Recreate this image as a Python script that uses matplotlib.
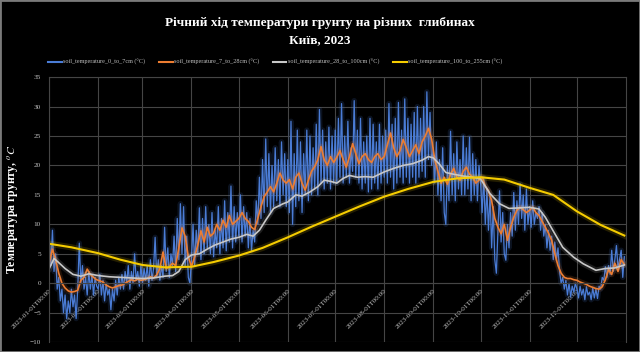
import matplotlib
matplotlib.use("Agg")
import matplotlib.pyplot as plt
import matplotlib.dates as mdates
import matplotlib.patheffects as pe
from matplotlib.lines import Line2D
import numpy as np

plt.rcParams['font.family'] = ['Liberation Serif', 'DejaVu Serif']
plt.rcParams['mathtext.fontset'] = 'stix'

# --- data (day of year 0 = 2023-01-01) ---
t_0_7 = [
    8, 3, 9, 2, 5, -1, 1, -3, -1, -5, -2, -6, -3, -5, -1, -4, -2, -6, -1, 6.8, 0, 3, -1, 1, -2, 2, -1, 1.5, -2, 1, -0.5,
    -1, 1.5, -2, 0.5, -3, 0, -2, -1, -4.5, -1, -3, 0.5, -2, 1, -1, 1.5, -1, 2, 0, 3, -1, 2, 0, 5, 0.5, 2, -0.5, 3,
    0, 2.5, 0.5, 3, -0.5, 4, 0.5, 2.5, 7.8, 1, 4, 0.5, 3, 1, 9.5, 2, 6, 1, 5, 3, 8, 2, 11, 4, 13.5, 5, 13, 3, 8, 1, 0,
    4, 10, 3, 9, 5, 12.8, 4, 11, 5, 13, 6, 10, 5, 12, 4.5, 9, 6, 13, 5, 11, 6, 14, 5.5, 12, 7, 16.5, 6, 13, 7, 12,
    8, 15, 7, 13, 8, 12, 6, 11, 5.5, 9, 7, 14, 10, 18, 11, 21, 12, 24.5, 13, 22, 12, 20, 13, 23, 14, 21, 13, 24, 15, 22, 13,
    21, 12, 27.5, 10, 22, 13, 26, 14, 24, 12, 22, 15, 26, 14, 25, 15, 23, 16, 27, 15, 29.5, 17, 26, 16, 24, 17, 26.5, 16, 25, 17,
    26, 17, 28, 18, 30.5, 17, 25, 18, 27.5, 17, 23, 19, 31, 18, 26, 17, 28, 16, 24, 17, 25, 15.5, 28, 16, 27, 17, 24, 16, 27, 17, 25,
    18, 26, 17, 30.5, 18, 27, 16, 28, 17, 30.7, 18, 26, 17, 31.3, 18, 28, 17, 27, 18, 29, 17, 30, 18, 28, 19, 30, 18, 32.5, 21, 29, 20,
    23, 17, 24, 15, 21, 14, 23, 12, 10, 20, 14, 25.8, 15, 22, 14, 24, 16, 21, 15, 25, 15, 23, 16, 24.8, 14, 22, 15, 21, 14, 20,
    17, 12, 18, 10, 16, 9, 15, 6, 13, 4, 1.7, 9, 15.7, 7, 12, 5, 3.9, 10, 6, 12, 8, 15.4, 9, 14, 10, 16.9, 11, 15, 9, 16, 10,
    13, 9.5, 14, 10, 12, 11, 13, 9, 12, 8, 10, 6, 9, 5.6, 8, 4, 7, 3.9, 6, 2, 0, 1, -1, 0.5, -2, 0, -2.3, -0.5, -1.5, 0,
    -1, -2.5, -0.5, -2, -1, -2.8, -0.6, -2, -1.5, -2.8, -0.8, -2.5, -1, -2.6, -0.5, -1, 1, 0.5, 2.8, 1, 3, 1.5, 5.6, 2, 4, 6.4, 2.5, 4, 5.6, 1, 4.5,
]

# every second day
t_7_28 = [
    3.5, 5.8, 4, 1.7, 0, -0.8, -1.3, -1.5, -1.4, -1.2, 0.5, 1.0, 2.4, 1.5, 1.0, 0.6,
    0.4, 0.2, -0.3, -0.6, -0.8, -0.6, -0.4, -0.3, 0, 0.3, 0.6, 0.4, 0.7, 0.5,
    0.6, 0.8, 1.1, 0.9, 1.4, 2.5, 5.3, 2.5, 2.8, 3.4, 3.0, 6.0, 9.4, 8.0, 4.5,
    2.8, 4.5, 6.5, 8.9, 7.0, 9.5, 8.0, 8.5, 10.0, 9.0, 10.7, 9.5, 11.5, 10.0, 10.5,
    11.0, 12.0, 11.0, 10.5, 9.5, 9.1, 11, 13, 14.7, 15.5, 16.4, 15.5, 17.0, 18.7, 17.5, 17.0,
    17.6, 16.0, 18.0, 18.7, 17.0, 15.8, 17.5, 19.0, 19.8, 21.0, 23.2, 21.0, 20.0, 21.5, 20.5,
    21.4, 22.5, 21.0, 19.7, 21.5, 23.7, 22.0, 20.3, 21.5, 22.0, 21.0, 20.5, 21.5, 22.0, 21.0,
    21.5, 23.5, 25.5, 23.0, 21.5, 22.5, 24.4, 23.0, 21.5, 22.5, 23.5, 22.0, 24.0, 25.0, 26.3, 24.5,
    21.0, 19.0, 17.0, 18.0, 16.8, 18.5, 19.5, 18.0, 17.5, 19.0, 19.7, 18.5, 18.0, 17.0, 17.5,
    18.0, 16.5, 15.7, 14.0, 11.0, 9.5, 8.4, 10.0, 7.3, 9.5, 11.2, 12.4, 12.9, 12.5, 12.0,
    12.4, 12.9, 12.0, 11.5, 10.5, 9.5, 8.5, 7.3, 5.0, 3.0, 1.7, 1.0, 0.8, 0.8, 0.6,
    0.5, 0.2, 0.0, -0.2, -0.5, -0.7, -0.9, -1.0, -0.6, 0.6, 2.3, 1.5, 3.4, 2.0, 4.0, 3.2,
]

gray_days = [0, 3, 6, 10, 15, 20, 25, 31, 38, 45, 52, 59, 66, 73, 78, 82, 86, 90, 95, 100,
             105, 110, 115, 120, 125, 129, 133, 137, 142, 148, 151, 156, 160, 165, 170, 174,
             178, 182, 186, 190, 195, 200, 205, 212, 218, 224, 230, 236, 240, 243, 247, 251,
             256, 262, 268, 273, 279, 285, 291, 298, 304, 310, 314, 320, 325, 332, 338, 346,
             352, 358, 364]
t_28_100 = [2.5, 4.2, 3.5, 2.5, 1.5, 1.2, 1.6, 1.3, 1.1, 1.0, 0.9, 0.8, 0.9, 1.2, 1.3, 2.0,
            4.0, 4.8, 5.0, 5.8, 6.5, 7.0, 7.5, 7.8, 8.3, 8.0, 9.0, 10.7, 12.7, 13.5, 13.8,
            15.0, 14.8, 15.5, 16.4, 17.5, 17.3, 17.0, 17.8, 18.3, 18.0, 18.1, 18.0, 18.9,
            19.5, 20.0, 20.3, 20.9, 21.5, 21.3, 20.2, 18.8, 18.5, 18.2, 18.0, 17.7, 15.2,
            13.5, 12.7, 12.8, 12.9, 12.6, 11.2, 8.4, 6.1, 4.4, 3.3, 2.2, 2.5, 2.6, 3.1]

yellow_days = [0, 14, 31, 45, 59, 73, 90, 104, 120, 135, 151, 166, 181, 196, 212, 227, 243,
               258, 273, 288, 304, 319, 334, 349, 364]
t_100_255 = [6.7, 6.1, 5.1, 4.0, 3.1, 2.7, 2.8, 3.6, 4.7, 6.0, 7.8, 9.6, 11.3, 13.0, 14.7,
             16.0, 17.2, 17.8, 18.0, 17.6, 16.2, 15.0, 12.2, 9.9, 8.1]

labels = ["soil_temperature_0_to_7cm (°C)", "soil_temperature_7_to_28cm (°C)",
          "soil_temperature_28_to_100cm (°C)", "soil_temperature_100_to_255cm (°C)"]
colors = ["#4a7cd6", "#ed7d31", "#c8c8c8", "#f5cc00"]

base = np.datetime64('2023-01-01')
d_blue = base + np.arange(len(t_0_7)).astype('timedelta64[D]')
d_orange = base + (np.arange(len(t_7_28)) * 2).astype('timedelta64[D]')
d_gray = base + np.array(gray_days).astype('timedelta64[D]')
d_yellow = base + np.array(yellow_days).astype('timedelta64[D]')

fig = plt.figure(figsize=(6.4, 3.52), dpi=100, facecolor='black')
ax = fig.add_axes([0.077, 0.028, 0.901, 0.753])
ax.set_facecolor('black')

series = [(d_blue, t_0_7, 0.9), (d_orange, t_7_28, 1.2), (d_gray, t_28_100, 1.2), (d_yellow, t_100_255, 1.5)]
for (dx, vy, lw), c in zip(series, colors):
    ax.plot(dx, vy, color=c, lw=lw,
            path_effects=[pe.Stroke(linewidth=lw + 3, foreground=c, alpha=0.15), pe.Normal()])

ax.set_ylim(-10, 35)
ax.set_yticks(np.arange(-10, 36, 5))
ax.set_xlim(base, np.datetime64('2024-01-01'))
ax.set_xticks([np.datetime64('2023-%02d-01' % m) for m in range(1, 13)])
ax.xaxis.set_major_formatter(mdates.DateFormatter('%Y-%m-%dT%H:%M'))
ax.grid(True, color='#454545', lw=0.8)
for s in ['top', 'left', 'right']:
    ax.spines[s].set_color('#454545')
ax.spines['bottom'].set_position(('data', 0))
ax.spines['bottom'].set_color('#454545')
ax.tick_params(length=0, colors='#c0c0c0', labelsize=5.2)
ax.tick_params(axis='y', pad=6)
for lbl in ax.get_xticklabels():
    lbl.set_rotation(45)
    lbl.set_ha('right')
    lbl.set_va('top')
    lbl.set_rotation_mode('anchor')

ax.set_ylabel("Температура грунту, $^{o}\\mathit{C}$", color='white', fontsize=8.5,
              fontweight='bold', labelpad=7)

fig.text(0.5, 0.935, "Річний хід температури грунту на різних  глибинах", ha='center',
         va='center', color='white', fontsize=9.5, fontweight='bold')
fig.text(0.5, 0.887, "Київ, 2023", ha='center', va='center', color='white',
         fontsize=9.5, fontweight='bold')

handles = [Line2D([], [], color=c, lw=1.5) for c in colors]
leg = fig.legend(handles, labels, loc='center', bbox_to_anchor=(0.43, 0.823), ncol=4,
                 frameon=False, fontsize=4.4, handlelength=2.2, columnspacing=2.3,
                 handletextpad=0.2)
for txt in leg.get_texts():
    txt.set_color('#c0c0c0')

fig.patches.append(plt.Rectangle((0, 0), 1, 1, transform=fig.transFigure, fill=False,
                                 edgecolor='#7a7a7a', lw=2))

fig.savefig('out.png', dpi=100, facecolor='black')
